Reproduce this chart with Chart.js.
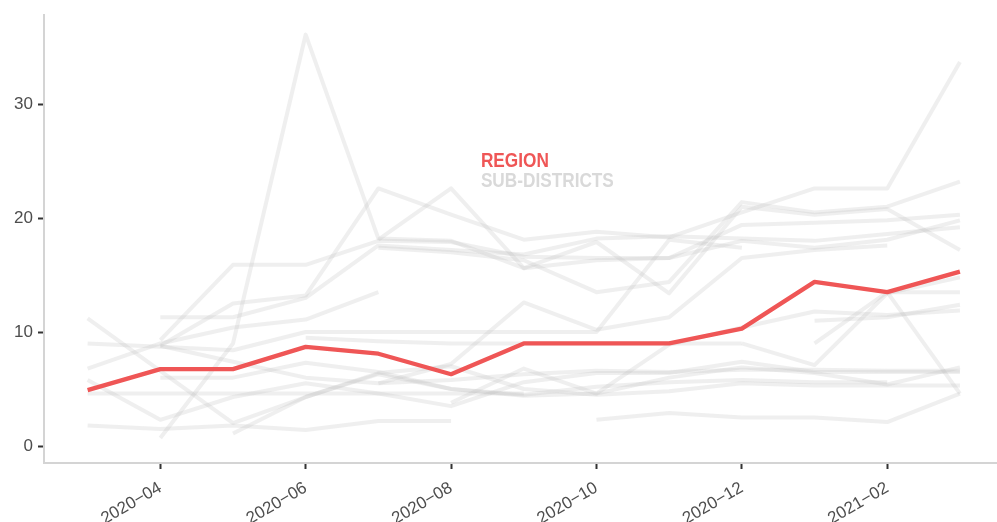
<!DOCTYPE html>
<html>
<head>
<meta charset="utf-8">
<script src="https://cdn.jsdelivr.net/npm/chart.js@4/dist/chart.umd.min.js"></script>
<style>
  html, body { margin: 0; padding: 0; background: #fff; overflow: hidden; }
  #wrap { width: 997px; height: 522px; position: relative; }
</style>
</head>
<body>
<div id="wrap"><canvas id="chart"></canvas></div>
<script>
const months = ['2020-03', '2020-04', '2020-05', '2020-06', '2020-07', '2020-08', '2020-09',
                '2020-10', '2020-11', '2020-12', '2021-01', '2021-02', '2021-03'];
const tickMonths = ['2020-04', '2020-06', '2020-08', '2020-10', '2020-12', '2021-02'];
const tickLabels = ['2020\u221204', '2020\u221206', '2020\u221208', '2020\u221210', '2020\u221212', '2021\u221202'];
const yTicks = [0, 10, 20, 30];

const region = [4.9, 6.75, 6.75, 8.7, 8.1, 6.3, 9.0, 9.0, 9.0, 10.3, 14.4, 13.5, 15.3];

// one row per sub-district, null where the district has no value
const subDistricts = [
  [null, 0.7, 9.0, 36.1, 18.2, 18.0, 15.6, 17.9, 13.4, 21.0, 20.3, 20.8, 17.2],
  [null, 9.3, 15.9, 15.9, 18.0, 17.9, 16.6, 16.5, 16.5, 19.4, 19.6, 19.8, 20.3],
  [null, 8.8, 12.5, 13.2, 22.6, 20.3, 18.1, 18.8, 18.3, 20.5, 22.6, 22.6, 33.7],
  [null, null, null, null, 18.1, 22.6, 15.6, 16.3, 16.5, 18.0, 17.4, 18.1, 19.8],
  [null, null, null, null, 17.4, 17.0, 16.3, 13.5, 14.4, 21.4, 20.5, 21.0, 23.2],
  [null, 11.3, 11.3, 13.0, 17.6, 17.2, 16.8, 18.2, 18.4, 18.2, 18.0, 18.6, 19.2],
  [6.8, 9.0, 10.4, 11.1, 13.5, null, null, null, null, null, null, null, null],
  [9.0, 8.7, 8.4, 10.0, 10.0, 10.0, 10.0, 10.0, 18.1, 17.4, null, null, null],
  [null, null, null, 9.5, 9.2, 9.0, 9.0, 9.0, 9.0, 9.0, null, null, null],
  [null, null, null, null, 5.5, 7.2, 12.6, 10.2, 11.3, 16.5, 17.2, 17.6, null],
  [11.2, 6.6, 2.0, 4.3, 6.3, 5.0, 4.4, 4.6, 6.0, 6.9, 6.4, 5.4, 6.9],
  [5.8, 2.3, 4.3, 5.5, 4.6, 3.5, 5.6, 6.4, 6.4, 7.4, 6.5, 6.5, 6.5],
  [1.8, 1.5, 1.8, 1.4, 2.2, 2.2, null, null, null, null, null, null, null],
  [4.6, 4.6, 4.6, 4.6, 4.6, 4.6, 4.6, null, null, null, null, null, null],
  [null, null, 1.1, 4.3, 6.4, 7.0, 5.0, 4.5, 4.8, 5.5, 5.3, 5.3, 5.3],
  [null, 8.8, 7.4, 6.0, 5.5, 5.8, 6.3, 6.6, 6.5, 6.7, 6.7, 6.6, 6.6],
  [null, null, null, null, null, 3.8, 6.8, 4.6, 8.9, 10.4, 11.8, 11.5, 11.9],
  [null, null, null, null, null, null, null, 2.3, 2.9, 2.5, 2.5, 2.1, 4.6],
  [null, null, null, null, null, null, null, null, null, 9.0, 7.1, 13.4, 14.8],
  [null, null, null, null, null, null, null, null, null, null, 9.0, 13.5, 4.6],
  [null, null, null, null, null, null, null, null, null, null, 11.0, 11.3, 12.4],
  [null, null, null, null, null, null, null, null, null, null, null, 13.5, 13.5],
  [null, 6.0, 6.0, 7.3, 6.5, 5.0, 4.5, 5.2, 5.6, 5.8, 5.6, 5.6, null]
];

const legendLabels = ['REGION', 'SUB-DISTRICTS'];
const legendColors = ['#ef5656', '#d9d9d9'];

const RED = '#ef5656';
const GREY = 'rgba(190,190,190,0.24)';

function toPoints(arr) {
  return arr.map((v, i) => ({ x: i, y: v }));
}

const datasets = [{
  label: 'Region',
  data: toPoints(region),
  borderColor: RED,
  borderWidth: 4.3,
  pointRadius: 0,
  order: 0
}];
subDistricts.forEach((row, k) => {
  datasets.push({
    label: 'Sub-district ' + (k + 1),
    data: toPoints(row),
    borderColor: GREY,
    borderWidth: 4,
    pointRadius: 0,
    order: 1
  });
});

// text legend placed inside the plot, like the original annotation
const textLegend = {
  id: 'textLegend',
  afterDatasetsDraw(chart) {
    const { ctx, scales: { x, y } } = chart;
    const px = x.getPixelForValue(5.41);
    ctx.save();
    ctx.font = 'bold 21px "Liberation Sans", Arial, sans-serif';
    ctx.textAlign = 'left';
    ctx.textBaseline = 'alphabetic';
    // narrow face isn't installed, squeeze the regular bold one
    ctx.translate(px, 0);
    ctx.scale(0.82, 1);
    ctx.fillStyle = legendColors[0];
    ctx.fillText(legendLabels[0], 0, y.getPixelForValue(24.5));
    ctx.fillStyle = legendColors[1];
    ctx.fillText(legendLabels[1], 0, y.getPixelForValue(22.75));
    ctx.restore();
  }
};

const tickFont = { family: '"Liberation Sans", Arial, sans-serif', size: 17 };

new Chart(document.getElementById('chart'), {
  type: 'line',
  data: { datasets },
  plugins: [textLegend],
  options: {
    responsive: true,
    maintainAspectRatio: false,
    animation: false,
    spanGaps: false,
    layout: { padding: { top: 15, left: 0, right: 0, bottom: 0 } },
    elements: { line: { tension: 0, borderJoinStyle: 'round', borderCapStyle: 'butt' } },
    plugins: { legend: { display: false }, tooltip: { enabled: false } },
    scales: {
      x: {
        type: 'linear',
        min: -0.6,
        max: 12.51,
        afterBuildTicks(scale) {
          scale.ticks = tickMonths.map(m => ({ value: months.indexOf(m) }));
        },
        afterFit(scale) { scale.height = 59; },
        ticks: {
          color: '#4d4d4d',
          font: tickFont,
          minRotation: 30,
          maxRotation: 30,
          padding: 9,
          callback: (v) => tickLabels[tickMonths.indexOf(months[v])]
        },
        grid: { drawOnChartArea: false, drawTicks: true, tickLength: 6, tickColor: '#333', tickWidth: 2 },
        border: { color: '#d4d4d4', width: 2 }
      },
      y: {
        type: 'linear',
        min: -1.49,
        max: 37.8,
        afterBuildTicks(scale) {
          scale.ticks = yTicks.map(v => ({ value: v }));
        },
        afterFit(scale) { scale.width = 44; },
        ticks: { color: '#4d4d4d', font: tickFont, padding: 5 },
        grid: { drawOnChartArea: false, drawTicks: true, tickLength: 6, tickColor: '#333', tickWidth: 2 },
        border: { color: '#d4d4d4', width: 2 }
      }
    }
  }
});
</script>
</body>
</html>
